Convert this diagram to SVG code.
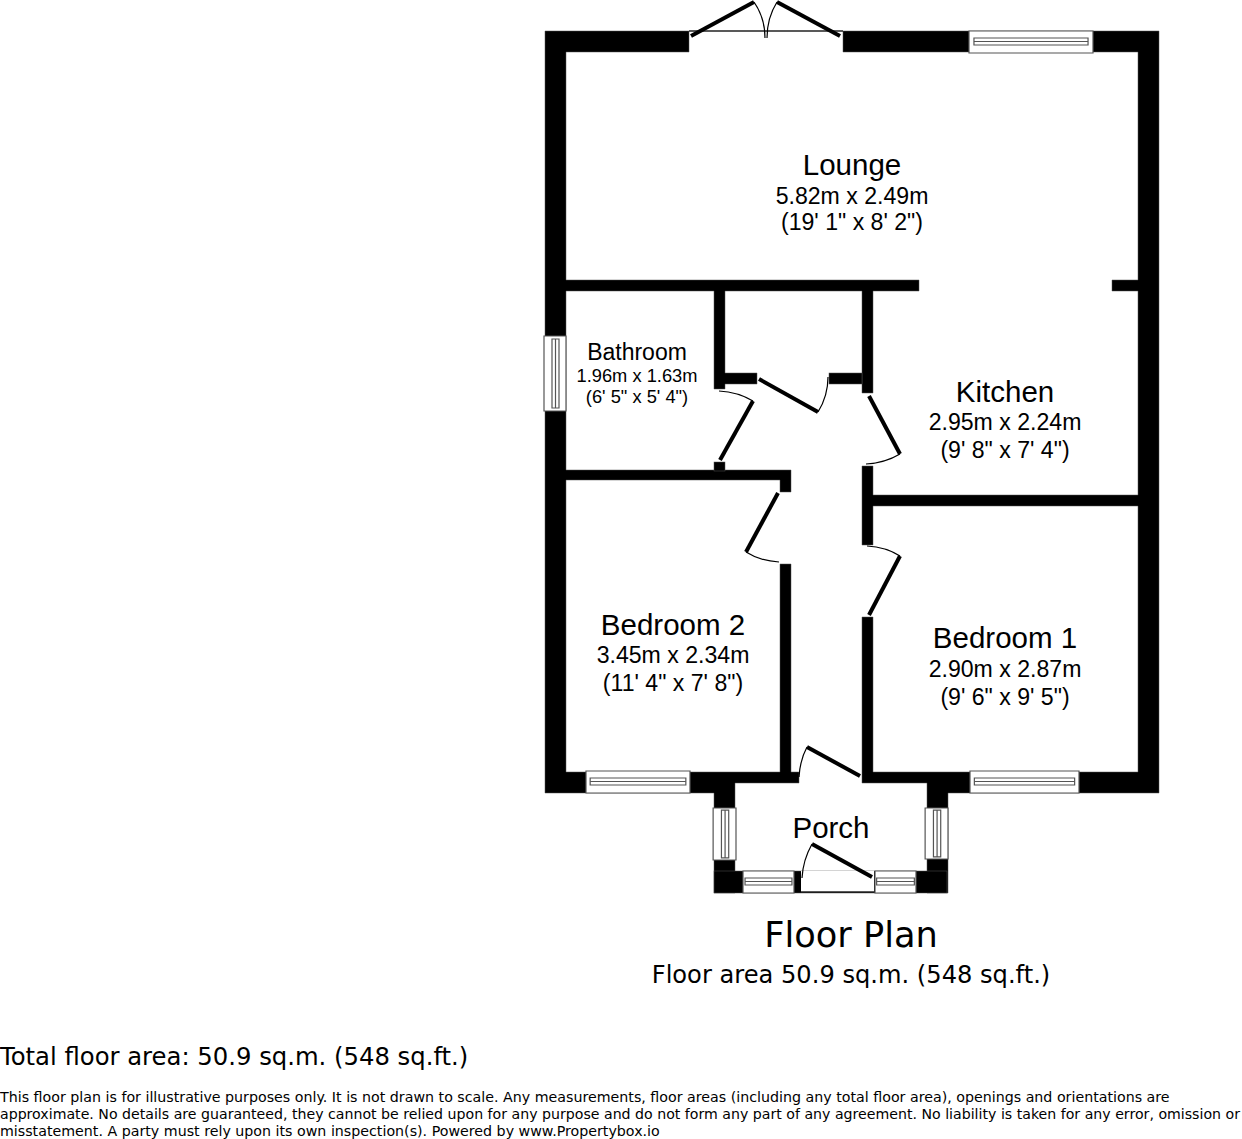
<svg xmlns="http://www.w3.org/2000/svg" width="1242" height="1139" viewBox="0 0 1242 1139">
<style>
.bg{fill:#fff}
.wall{fill:#000;stroke:#555;stroke-width:.5}
.door{fill:none;stroke:#000;stroke-width:4}
.arc{fill:none;stroke:#000;stroke-width:1.2}
.win{fill:#fff;stroke:#555;stroke-width:1.2;vector-effect:non-scaling-stroke}
text{font-family:"Liberation Sans",Arial,sans-serif;fill:#000;text-anchor:middle}
.d{font-family:"DejaVu Sans",sans-serif}
.l{font-size:29.5px}.m{font-size:23.1px}.b{font-size:23px}.s{font-size:18.3px}
.f{font-size:14.22px;text-anchor:start}
</style>
<defs>
<g id="winH"><rect class="win" x="0" y="0" width="100" height="22"/><rect class="win" x="4" y="7" width="92" height="7"/><line class="win" x1="4" y1="10.5" x2="96" y2="10.5"/></g>
</defs>
<rect class="bg" width="1242" height="1139"/>
<g id="walls">
<path class="wall" d="M545 31H689V52H566V280H919V291H873V393H862V291H725V373H757V384H725V389H714V291H566V470H791V492H780V480H566V772H780V564H791V772H799V783H735V893H714V793H545Z"/>
<path class="wall" d="M843 31H1159V793H948V893H927V783H862V617H873V772H1138V506H873V545H862V466H873V495H1138V291H1112V280H1138V52H843Z"/>
<rect class="wall" x="829" y="373" width="33" height="11"/>
<rect class="wall" x="714" y="462" width="11" height="9"/>
<rect class="wall" x="714" y="871" width="233" height="22"/>
<rect class="bg" x="801" y="871" width="73" height="21"/>
<line x1="801" y1="892" x2="874" y2="892" stroke="#222" stroke-width="1.4"/>
</g>
<g id="windows">
<g transform="translate(969 31) scale(1.24 1)"><use href="#winH"/></g>
<g transform="translate(586 771) scale(1.04 1)"><use href="#winH"/></g>
<g transform="translate(970 771) scale(1.09 1)"><use href="#winH"/></g>
<g transform="translate(743 871) scale(.51 1)"><use href="#winH"/></g>
<g transform="translate(875 871) scale(.41 1)"><use href="#winH"/></g>
<g transform="translate(566 336) rotate(90) scale(.75 1)"><use href="#winH"/></g>
<g transform="translate(736 808) rotate(90) scale(.52 1.04)"><use href="#winH"/></g>
<g transform="translate(948 808) rotate(90) scale(.51 1.04)"><use href="#winH"/></g>
</g>
<g id="connectors">
<line x1="689" y1="31" x2="843" y2="31" stroke="#222" stroke-width="1.4"/>
<path class="door" d="M691 36L754 2"/><path class="arc" d="M754 2Q765 18 765 38"/>
<path class="door" d="M840 36L777 2"/><path class="arc" d="M777 2Q767 18 767 38"/>
<path class="door" d="M720 460L753 401"/><path class="arc" d="M753 401Q738 392 719 391"/>
<path class="door" d="M759 379L818 412"/><path class="arc" d="M818 412Q828 396 828 377"/>
<path class="door" d="M869 396L900 454"/><path class="arc" d="M900 454Q885 463 866 464"/>
<path class="door" d="M778 493L746 552"/><path class="arc" d="M746 552Q760 561 779 562"/>
<path class="door" d="M869 615L900 556"/><path class="arc" d="M900 556Q886 547 867 546"/>
<path class="door" d="M860 776L807 747"/><path class="arc" d="M807 747Q800 760 799 777"/>
<path class="door" d="M872 877L812 844"/><path class="arc" d="M812 844Q803 860 802 878"/>
</g>
<g id="lounge"><text class="l" x="852" y="175">Lounge</text><text class="m" x="852" y="204">5.82m x 2.49m</text><text class="m" x="852" y="230">(19' 1" x 8' 2")</text></g>
<g id="bathroom"><text class="b" x="637" y="360">Bathroom</text><text class="s" x="637" y="382">1.96m x 1.63m</text><text class="s" x="637" y="403">(6' 5" x 5' 4")</text></g>
<g id="kitchen"><text class="l" x="1005" y="402">Kitchen</text><text class="m" x="1005" y="430">2.95m x 2.24m</text><text class="m" x="1005" y="458">(9' 8" x 7' 4")</text></g>
<g id="bedroom2"><text class="l" x="673" y="635">Bedroom 2</text><text class="m" x="673" y="663">3.45m x 2.34m</text><text class="m" x="673" y="691">(11' 4" x 7' 8")</text></g>
<g id="bedroom1"><text class="l" x="1005" y="648">Bedroom 1</text><text class="m" x="1005" y="677">2.90m x 2.87m</text><text class="m" x="1005" y="705">(9' 6" x 9' 5")</text></g>
<g id="porch"><text class="l" x="831" y="838">Porch</text></g>
<g id="caption">
<text class="d" x="851" y="947" font-size="35.2">Floor Plan</text>
<text class="d" x="851" y="983" font-size="24.15">Floor area 50.9 sq.m. (548 sq.ft.)</text>
<text class="d" x="0" y="1065" font-size="24.3" style="text-anchor:start">Total floor area: 50.9 sq.m. (548 sq.ft.)</text>
<text class="d f" x="0" y="1102">This floor plan is for illustrative purposes only. It is not drawn to scale. Any measurements, floor areas (including any total floor area), openings and orientations are</text>
<text class="d f" x="0" y="1119" textLength="1240" lengthAdjust="spacingAndGlyphs">approximate. No details are guaranteed, they cannot be relied upon for any purpose and do not form any part of any agreement. No liability is taken for any error, omission or</text>
<text class="d f" x="0" y="1136">misstatement. A party must rely upon its own inspection(s). Powered by www.Propertybox.io</text>
</g>
</svg>
